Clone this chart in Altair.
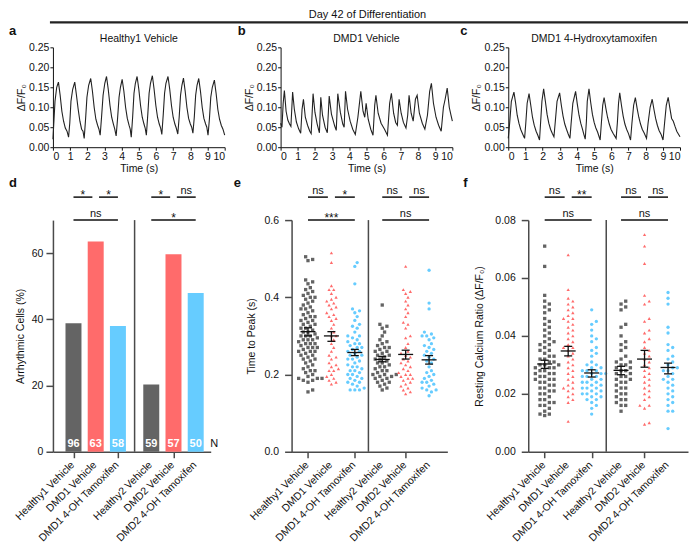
import altair as alt
import numpy as np
import pandas as pd

FONT = "Liberation Sans"

# ---------------- data ----------------
# a: Healthy1 Vehicle trace
a_t = [0.00,0.05,0.12,0.22,0.32,0.42,0.52,0.62,0.72,0.82,0.91,0.98,1.05,1.15,1.27,1.37,1.47,1.57,1.67,1.75,1.82,1.90,1.98,2.08,2.20,2.30,2.40,2.50,2.60,2.68,2.75,2.83,2.92,3.02,3.12,3.22,3.32,3.42,3.52,3.60,3.68,3.76,3.85,3.93,4.03,4.13,4.23,4.33,4.43,4.50,4.56,4.64,4.72,4.80,4.90,5.00,5.10,5.20,5.30,5.37,5.44,5.52,5.60,5.68,5.79,5.89,5.99,6.09,6.19,6.27,6.34,6.42,6.50,6.58,6.70,6.80,6.90,7.00,7.10,7.18,7.27,7.35,7.43,7.51,7.60,7.70,7.80,7.90,8.00,8.08,8.15,8.23,8.31,8.39,8.49,8.59,8.69,8.79,8.89,8.96,9.03,9.11,9.19,9.28,9.40,9.50,9.60,9.70,9.80,9.90,10.0]
a_y = [0.020,0.060,0.115,0.150,0.163,0.130,0.090,0.065,0.048,0.040,0.025,0.060,0.115,0.145,0.163,0.130,0.095,0.065,0.045,0.040,0.022,0.070,0.125,0.155,0.172,0.140,0.100,0.070,0.055,0.045,0.030,0.075,0.130,0.160,0.177,0.145,0.105,0.075,0.058,0.045,0.028,0.070,0.125,0.150,0.170,0.140,0.100,0.072,0.055,0.045,0.025,0.075,0.135,0.160,0.177,0.145,0.105,0.075,0.058,0.048,0.030,0.080,0.135,0.160,0.179,0.145,0.105,0.075,0.058,0.048,0.032,0.080,0.135,0.160,0.177,0.145,0.105,0.075,0.058,0.048,0.033,0.075,0.130,0.155,0.173,0.140,0.100,0.072,0.058,0.050,0.035,0.075,0.130,0.155,0.172,0.140,0.100,0.072,0.058,0.050,0.030,0.070,0.125,0.150,0.168,0.135,0.095,0.070,0.055,0.045,0.030]

# b: DMD1 Vehicle trace
b_t = [0.00,0.08,0.15,0.22,0.32,0.42,0.52,0.60,0.70,0.80,0.92,1.05,1.17,1.25,1.33,1.44,1.57,1.70,1.78,1.89,2.00,2.13,2.26,2.34,2.44,2.59,2.72,2.83,2.96,3.15,3.24,3.33,3.48,3.62,3.70,3.78,3.90,4.05,4.20,4.35,4.50,4.67,4.80,4.90,4.98,5.10,5.25,5.38,5.48,5.55,5.68,5.85,6.05,6.22,6.35,6.45,6.58,6.70,6.80,6.90,7.02,7.15,7.30,7.40,7.48,7.60,7.72,7.85,7.95,8.08,8.25,8.40,8.55,8.68,8.78,8.90,9.05,9.20,9.35,9.48,9.58,9.70,9.82,9.92,10.0]
b_y = [0.060,0.050,0.110,0.142,0.090,0.068,0.058,0.052,0.138,0.095,0.063,0.046,0.035,0.095,0.120,0.075,0.055,0.040,0.034,0.134,0.087,0.058,0.036,0.125,0.080,0.050,0.036,0.128,0.083,0.053,0.042,0.134,0.087,0.058,0.050,0.140,0.095,0.065,0.045,0.032,0.075,0.140,0.090,0.075,0.110,0.070,0.045,0.030,0.105,0.130,0.085,0.060,0.045,0.030,0.110,0.135,0.085,0.062,0.055,0.120,0.085,0.062,0.048,0.080,0.130,0.085,0.065,0.120,0.130,0.085,0.060,0.045,0.080,0.140,0.160,0.110,0.075,0.055,0.040,0.100,0.120,0.148,0.100,0.080,0.065]

# c: DMD1 4-Hydroxytamoxifen trace
c_t = [0.00,0.08,0.18,0.33,0.43,0.52,0.62,0.72,0.85,0.95,1.02,1.10,1.21,1.31,1.41,1.51,1.62,1.72,1.82,1.88,1.96,2.06,2.16,2.26,2.36,2.46,2.56,2.66,2.74,2.84,2.99,3.09,3.19,3.29,3.39,3.49,3.59,3.66,3.76,3.92,4.02,4.12,4.22,4.32,4.40,4.48,4.55,4.60,4.70,4.80,4.90,5.00,5.10,5.20,5.35,5.42,5.50,5.58,5.68,5.78,5.88,5.98,6.10,6.28,6.35,6.42,6.49,6.59,6.69,6.79,6.89,7.00,7.12,7.20,7.30,7.40,7.50,7.60,7.70,7.80,7.92,8.05,8.14,8.26,8.38,8.48,8.58,8.68,8.78,8.90,9.01,9.10,9.20,9.31,9.41,9.51,9.61,9.71,9.81,9.92,10.0]
c_y = [0.022,0.060,0.115,0.138,0.110,0.080,0.060,0.045,0.032,0.022,0.060,0.110,0.134,0.105,0.075,0.055,0.040,0.030,0.018,0.060,0.115,0.146,0.115,0.082,0.060,0.045,0.035,0.026,0.065,0.115,0.136,0.105,0.078,0.058,0.045,0.033,0.022,0.060,0.110,0.140,0.108,0.080,0.060,0.045,0.032,0.020,0.065,0.115,0.146,0.112,0.082,0.062,0.048,0.038,0.018,0.060,0.105,0.124,0.098,0.075,0.058,0.045,0.035,0.022,0.060,0.110,0.136,0.105,0.078,0.058,0.045,0.034,0.018,0.060,0.105,0.124,0.098,0.075,0.058,0.045,0.035,0.022,0.060,0.100,0.120,0.095,0.072,0.055,0.042,0.032,0.018,0.060,0.105,0.125,0.098,0.072,0.065,0.052,0.040,0.032,0.026]

groups = ["Healthy1 Vehicle", "DMD1 Vehicle", "DMD1 4-OH Tamoxifen",
          "Healthy2 Vehicle", "DMD2 Vehicle", "DMD2 4-OH Tamoxifen"]
kinds = ["healthy", "dmd", "oht", "healthy", "dmd", "oht"]

# d: arrhythmic cells
arrhythmic_pct = [38.8, 63.5, 38.0, 20.3, 59.7, 48.0]
n_cells = [96, 63, 58, 59, 57, 50]

# e: time to peak (s)
ttp_h1 = [0.505,0.498,0.495,0.445,0.44,0.435,0.425,0.42,0.415,0.41,0.405,0.40,0.40,0.395,0.39,0.385,0.38,0.375,0.37,0.37,0.365,0.36,0.355,0.35,0.35,0.345,0.34,0.34,0.335,0.33,0.33,0.325,0.32,0.32,0.315,0.31,0.31,0.305,0.30,0.30,0.30,0.295,0.29,0.29,0.29,0.285,0.28,0.28,0.28,0.275,0.27,0.27,0.27,0.265,0.26,0.26,0.26,0.255,0.25,0.25,0.245,0.24,0.24,0.235,0.23,0.225,0.22,0.215,0.21,0.21,0.205,0.20,0.195,0.19,0.19,0.19,0.185,0.185,0.18,0.16,0.155]
ttp_d1 = [0.515,0.49,0.43,0.42,0.42,0.41,0.40,0.395,0.39,0.385,0.38,0.375,0.37,0.36,0.355,0.35,0.345,0.34,0.33,0.32,0.31,0.30,0.30,0.29,0.28,0.27,0.26,0.25,0.245,0.24,0.23,0.225,0.22,0.215,0.21,0.21,0.20,0.195,0.19,0.185,0.18,0.175]
ttp_o1 = [0.49,0.48,0.435,0.37,0.365,0.36,0.35,0.34,0.33,0.325,0.32,0.31,0.30,0.30,0.295,0.29,0.285,0.28,0.28,0.275,0.27,0.27,0.265,0.26,0.26,0.255,0.25,0.25,0.245,0.24,0.24,0.235,0.23,0.225,0.22,0.22,0.215,0.21,0.21,0.205,0.20,0.20,0.195,0.19,0.19,0.185,0.18,0.18,0.175,0.17,0.165,0.16,0.16,0.16]
ttp_h2 = [0.38,0.33,0.325,0.32,0.31,0.30,0.29,0.285,0.28,0.275,0.27,0.27,0.265,0.26,0.26,0.255,0.25,0.25,0.245,0.24,0.24,0.235,0.23,0.23,0.225,0.22,0.22,0.215,0.21,0.21,0.205,0.20,0.20,0.20,0.195,0.195,0.19,0.19,0.185,0.18,0.18,0.175,0.17,0.165,0.16]
ttp_d2 = [0.48,0.42,0.415,0.41,0.40,0.39,0.38,0.37,0.36,0.35,0.335,0.33,0.32,0.30,0.295,0.28,0.27,0.26,0.255,0.25,0.245,0.24,0.235,0.23,0.225,0.22,0.215,0.21,0.205,0.20,0.20,0.195,0.19,0.19,0.185,0.18,0.175,0.17,0.165,0.16,0.155,0.15]
ttp_o2 = [0.47,0.385,0.37,0.31,0.305,0.30,0.30,0.295,0.29,0.28,0.275,0.27,0.265,0.26,0.255,0.25,0.245,0.24,0.235,0.23,0.22,0.21,0.205,0.20,0.195,0.19,0.185,0.18,0.18,0.175,0.17,0.165,0.16,0.16,0.155,0.145]
ttp_mean = [0.311, 0.300, 0.257, 0.239, 0.252, 0.238]
ttp_lo = [0.300, 0.286, 0.249, 0.233, 0.240, 0.227]
ttp_hi = [0.321, 0.311, 0.265, 0.247, 0.263, 0.249]

# f: resting calcium ratio
rc_h1 = [0.071,0.064,0.054,0.052,0.051,0.050,0.049,0.048,0.046,0.045,0.044,0.043,0.042,0.041,0.040,0.039,0.038,0.038,0.037,0.037,0.036,0.035,0.035,0.034,0.033,0.033,0.032,0.032,0.031,0.031,0.030,0.030,0.030,0.029,0.029,0.029,0.028,0.028,0.027,0.027,0.027,0.026,0.026,0.025,0.025,0.025,0.024,0.024,0.023,0.023,0.022,0.022,0.021,0.021,0.020,0.020,0.019,0.018,0.018,0.017,0.017,0.016,0.016,0.015,0.014,0.013,0.013,0.0125]
rc_d1 = [0.068,0.056,0.053,0.052,0.051,0.050,0.049,0.048,0.047,0.046,0.046,0.045,0.044,0.043,0.042,0.041,0.040,0.039,0.038,0.037,0.036,0.036,0.035,0.034,0.033,0.032,0.031,0.030,0.029,0.028,0.027,0.026,0.025,0.024,0.023,0.022,0.022,0.021,0.020,0.019,0.018,0.017,0.0105]
rc_o1 = [0.049,0.045,0.044,0.042,0.040,0.039,0.038,0.036,0.035,0.034,0.033,0.031,0.030,0.030,0.029,0.029,0.028,0.028,0.028,0.027,0.027,0.027,0.026,0.026,0.026,0.025,0.025,0.024,0.024,0.024,0.023,0.023,0.022,0.022,0.022,0.021,0.021,0.020,0.020,0.020,0.019,0.019,0.018,0.018,0.017,0.016,0.015,0.013]
rc_h2 = [0.052,0.051,0.050,0.049,0.044,0.043,0.040,0.038,0.037,0.036,0.035,0.033,0.032,0.031,0.031,0.030,0.030,0.029,0.029,0.028,0.028,0.027,0.027,0.026,0.026,0.025,0.025,0.024,0.024,0.023,0.022,0.022,0.021,0.020,0.020,0.019,0.018,0.018,0.017,0.016,0.016,0.014]
rc_d2 = [0.075,0.071,0.065,0.054,0.052,0.051,0.046,0.045,0.042,0.041,0.039,0.038,0.036,0.035,0.034,0.033,0.032,0.031,0.030,0.029,0.028,0.027,0.026,0.025,0.024,0.023,0.022,0.021,0.020,0.019,0.018,0.016,0.016,0.015,0.010,0.0095]
rc_o2 = [0.055,0.053,0.051,0.043,0.041,0.037,0.036,0.035,0.033,0.032,0.031,0.030,0.029,0.029,0.028,0.028,0.027,0.026,0.025,0.025,0.024,0.023,0.022,0.021,0.020,0.019,0.018,0.017,0.016,0.014,0.014,0.008]
rc_mean = [0.0303, 0.0348, 0.0272, 0.0281, 0.0320, 0.0291]
rc_lo = [0.0288, 0.0331, 0.0258, 0.0266, 0.0292, 0.0269]
rc_hi = [0.0316, 0.0364, 0.0283, 0.0295, 0.0350, 0.0306]

# significance annotations (pairs of group indices, label, short/long)
sig_d = [((0, 1), "*", "s"), ((1, 2), "*", "s"), ((3, 4), "*", "s"), ((4, 5), "ns", "s"), ((0, 2), "ns", "l"), ((3, 5), "*", "l")]
sig_e = [((0, 1), "ns", "s"), ((1, 2), "*", "s"), ((3, 4), "ns", "s"), ((4, 5), "ns", "s"), ((0, 2), "***", "l"), ((3, 5), "ns", "l")]
sig_f = [((0, 1), "ns", "s"), ((1, 2), "**", "s"), ((3, 4), "ns", "s"), ((4, 5), "ns", "s"), ((0, 2), "ns", "l"), ((3, 5), "ns", "l")]

# ---------------- style / layout ----------------
COL = {"healthy": "#646464", "dmd": "#FF6B6B", "oht": "#66CCFF"}
SHAPE = {"healthy": "square", "dmd": "triangle-up", "oht": "circle"}
AX = "#4a4a4a"
TOP_W, TOP_H = 172, 100
BOT_H = 232
LETTER_X = -44


def text_layer(text, x, y, bold, size, align="left"):
    return alt.Chart(pd.DataFrame({"t": [text]})).mark_text(
        align=align, baseline="middle", fontSize=size, fontWeight="bold" if bold else "normal",
        font=FONT, color="#111").encode(text="t:N", x=alt.value(x), y=alt.value(y))


def trace_chart(t, y, title, letter, letter_x):
    df = pd.DataFrame({"t": t, "y": y})
    line = alt.Chart(df).mark_line(color="#222222", strokeWidth=1.1).encode(
        x=alt.X("t:Q", scale=alt.Scale(domain=[0, 10], nice=False),
                axis=alt.Axis(values=list(range(11)), title="Time (s)", tickSize=3,
                              labelPadding=1, titlePadding=2, domainColor="#111", tickColor="#111")),
        y=alt.Y("y:Q", scale=alt.Scale(domain=[0, 0.25], nice=False),
                axis=alt.Axis(values=[0, 0.05, 0.10, 0.15, 0.20, 0.25], format=".2f",
                              title="ΔF/F₀", tickSize=3, labelPadding=1, titlePadding=2,
                              domainColor="#111", tickColor="#111")),
    )
    return alt.layer(line, text_layer(letter, letter_x, -16, True, 13),
                     text_layer(title, TOP_W / 2, -8, False, 10.5, "center")).properties(
        width=TOP_W, height=TOP_H)


def cat_axis(pos):
    return alt.Axis(values=pos, labels=False, title=None, tickSize=6,
                    domainColor=AX, tickColor=AX, domainWidth=1.5, tickWidth=1.5)


def cat_labels(pos, xscale):
    df = pd.DataFrame({"pos": pos, "name": groups})
    return alt.Chart(df).mark_text(angle=315, align="right", baseline="middle", fontSize=10.5,
                                   font=FONT, color="#111", dx=-1).encode(
        x=alt.X("pos:Q", scale=xscale), y=alt.value(BOT_H + 11), text="name:N")


def swarm_offsets(vals, ppu_y, ppu_x, d=3.9):
    vals = np.asarray(vals, dtype=float)
    order = np.argsort(vals)
    placed = []
    offs = np.zeros(len(vals))
    step = d * 0.6
    cands = [0.0] + [s * j * step for j in range(1, 30) for s in (1, -1)]
    for i in order:
        yp = vals[i] * ppu_y
        for c in cands:
            if all((c - px) ** 2 + (yp - py) ** 2 >= d * d for px, py in placed):
                break
        placed.append((c, yp))
        offs[i] = c / ppu_x
    return offs


def brackets(pos, sig, xscale, gap=0.15):
    rows = []
    for (i, j), lab, kind in sig:
        x1, x2 = pos[i], pos[j]
        if kind == "s":
            if i in (1, 4):
                x1 += gap
            else:
                x2 -= gap
        rows.append({"x1": x1, "x2": x2, "xm": (x1 + x2) / 2, "lab": lab, "kind": kind,
                     "star": lab.startswith("*")})
    df = pd.DataFrame(rows)
    layers = []
    for kind, ly in (("s", -23), ("l", 0)):
        sub = df[df.kind == kind]
        layers.append(alt.Chart(sub).mark_rule(color="#111", strokeWidth=1.5).encode(
            x=alt.X("x1:Q", scale=xscale), x2="x2:Q", y=alt.value(ly)))
        for star, ty in ((False, ly - 3), (True, ly + 2)):
            s2 = sub[sub.star == star]
            if len(s2) == 0:
                continue
            layers.append(alt.Chart(s2).mark_text(
                font=FONT, fontSize=11 if not star else 12, baseline="alphabetic", color="#111"
            ).encode(x=alt.X("xm:Q", scale=xscale), y=alt.value(ty), text="lab:N"))
    return layers


def panel_label(letter, x):
    # letter plus an invisible anchor that reserves the space above the bottom row
    anchor = alt.Chart(pd.DataFrame({"v": [0]})).mark_point(opacity=0, size=1).encode(
        x=alt.value(0), y=alt.value(-44))
    return [text_layer(letter, x, -37, True, 13), anchor]


def divider(xdiv, ymax, xscale):
    return alt.Chart(pd.DataFrame({"x": [xdiv], "y": [0.0], "y2": [ymax]})).mark_rule(
        color=AX, strokeWidth=1.5).encode(x=alt.X("x:Q", scale=xscale), y="y:Q", y2="y2:Q")


# ---- panel d ----
pos_d = [1, 2, 3, 4.5, 5.5, 6.5]
dom_d = [0.3, 6.95]
W_D = 158
xs_d = alt.Scale(domain=dom_d, nice=False, zero=False)
df_d = pd.DataFrame({"pos": pos_d, "pct": arrhythmic_pct, "n": n_cells, "kind": kinds})
bars = alt.Chart(df_d).mark_bar(size=16).encode(
    x=alt.X("pos:Q", scale=xs_d, axis=cat_axis(pos_d)),
    y=alt.Y("pct:Q", scale=alt.Scale(domain=[0, 70], nice=False),
            axis=alt.Axis(values=list(range(0, 71, 10)), title="Arrhythmic Cells (%)", tickSize=7,
                          labelPadding=3, titlePadding=6, domainColor=AX, tickColor=AX,
                          domainWidth=1.5, tickWidth=1.5)),
    color=alt.Color("kind:N", scale=alt.Scale(domain=list(COL), range=list(COL.values())), legend=None),
)
ntext = alt.Chart(df_d).mark_text(color="white", fontWeight="bold", fontSize=11, font=FONT,
                                  baseline="middle").encode(
    x=alt.X("pos:Q", scale=xs_d), y=alt.value(BOT_H - 8), text="n:N")
nlab = alt.Chart(pd.DataFrame({"x": [7.33], "t": ["N"]})).mark_text(
    fontSize=11, font=FONT, baseline="middle", color="#111").encode(
    x=alt.X("x:Q", scale=xs_d), y=alt.value(BOT_H - 8), text="t:N")
panel_d = alt.layer(bars, ntext, nlab, divider(3.75, 70, xs_d), cat_labels(pos_d, xs_d),
                    *brackets(pos_d, sig_d, xs_d),
                    *panel_label("d", LETTER_X)).properties(width=W_D, height=BOT_H)


def scatter_panel(pos, dom, width, ymax, ylabel, yfmt, ticks, lists, means, los, his, sig,
                  xdiv, letter, letter_x, title_pad, label_pad):
    xs = alt.Scale(domain=dom, nice=False, zero=False)
    ppu_x = width / (dom[1] - dom[0])
    ppu_y = BOT_H / ymax
    rows = []
    for p, k, vals in zip(pos, kinds, lists):
        offs = swarm_offsets(vals, ppu_y, ppu_x)
        for v, o in zip(vals, offs):
            rows.append({"x": p + o, "v": v, "kind": k})
    sdf = pd.DataFrame(rows)
    yaxis = alt.Axis(values=ticks, format=yfmt, title=ylabel, tickSize=7, labelPadding=label_pad,
                     titlePadding=title_pad, domainColor=AX, tickColor=AX, domainWidth=1.5, tickWidth=1.5)
    pts = alt.Chart(sdf).mark_point(filled=True, size=11, opacity=1).encode(
        x=alt.X("x:Q", scale=xs, axis=cat_axis(pos)),
        y=alt.Y("v:Q", scale=alt.Scale(domain=[0, ymax], nice=False), axis=yaxis),
        color=alt.Color("kind:N", scale=alt.Scale(domain=list(COL), range=list(COL.values())), legend=None),
        shape=alt.Shape("kind:N", scale=alt.Scale(domain=list(SHAPE), range=list(SHAPE.values())), legend=None),
    )
    hw, cw = 7.5 / ppu_x, 4.0 / ppu_x
    edf = pd.DataFrame({"pos": pos, "m": means, "lo": los, "hi": his})
    edf["mx1"], edf["mx2"] = edf.pos - hw, edf.pos + hw
    edf["cx1"], edf["cx2"] = edf.pos - cw, edf.pos + cw
    eb = alt.Chart(edf)
    err = [
        eb.mark_rule(color="#111", strokeWidth=1.3).encode(x=alt.X("pos:Q", scale=xs), y="lo:Q", y2="hi:Q"),
        eb.mark_rule(color="#111", strokeWidth=1.3).encode(x=alt.X("mx1:Q", scale=xs), x2="mx2:Q", y="m:Q"),
        eb.mark_rule(color="#111", strokeWidth=1.3).encode(x=alt.X("cx1:Q", scale=xs), x2="cx2:Q", y="lo:Q"),
        eb.mark_rule(color="#111", strokeWidth=1.3).encode(x=alt.X("cx1:Q", scale=xs), x2="cx2:Q", y="hi:Q"),
    ]
    return alt.layer(pts, *err, divider(xdiv, ymax, xs), cat_labels(pos, xs), *brackets(pos, sig, xs),
                     *panel_label(letter, letter_x)).properties(width=width, height=BOT_H)


pos_e = [1, 2, 3, 4.17, 5.17, 6.17]
panel_e = scatter_panel(pos_e, [0.3, 6.95], 156, 0.6, "Time to Peak (s)", ".1f",
                        [0, 0.1, 0.2, 0.3, 0.4, 0.5, 0.6],
                        [ttp_h1, ttp_d1, ttp_o1, ttp_h2, ttp_d2, ttp_o2],
                        ttp_mean, ttp_lo, ttp_hi, sig_e, 3.58, "e", -58, 8, 6)
pos_f = [1, 2, 3, 4.25, 5.25, 6.25]
panel_f = scatter_panel(pos_f, [0.3, 7.1], 160, 0.08, "Resting Calcium Ratio (ΔF/F₀)", ".2f",
                        [0, 0.02, 0.04, 0.06, 0.08],
                        [rc_h1, rc_d1, rc_o1, rc_h2, rc_d2, rc_o2],
                        rc_mean, rc_lo, rc_hi, sig_f, 3.62, "f", -65, 10, 6)

# ---- top row ----
ta = trace_chart(a_t, a_y, "Healthy1 Vehicle", "a", LETTER_X)
tb = trace_chart(b_t, b_y, "DMD1 Vehicle", "b", -43)
tc = trace_chart(c_t, c_y, "DMD1 4-Hydroxytamoxifen", "c", -48)
top_row = alt.hconcat(ta, tb, tc, spacing=56, bounds="flush")

bot_row = alt.hconcat(panel_d, panel_e, panel_f, spacing=81, bounds="flush")

# ---- header ----
HDR_W = 636
hdr_df = pd.DataFrame({"t": ["Day 42 of Differentiation"]})
hdr_text = alt.Chart(hdr_df).mark_text(font=FONT, fontSize=11, baseline="middle", color="#111").encode(
    text="t:N", x=alt.value(315), y=alt.value(5))
hdr_rule = alt.Chart(hdr_df).mark_rule(color="#222", strokeWidth=2.2).encode(
    x=alt.value(-3), x2=alt.value(HDR_W), y=alt.value(12))
header = alt.layer(hdr_text, hdr_rule).properties(width=HDR_W, height=11)

chart = alt.vconcat(header, top_row, bot_row, spacing=0, bounds="full", padding=0).configure_view(
    stroke="transparent").configure_axis(
    grid=False, labelFont=FONT, titleFont=FONT, labelFontSize=10.5, titleFontSize=10.5,
    titleFontWeight="normal", labelColor="#111", titleColor="#111", labelOverlap=False)

chart.save("out.html", embed_options={"renderer": "svg", "actions": False})
